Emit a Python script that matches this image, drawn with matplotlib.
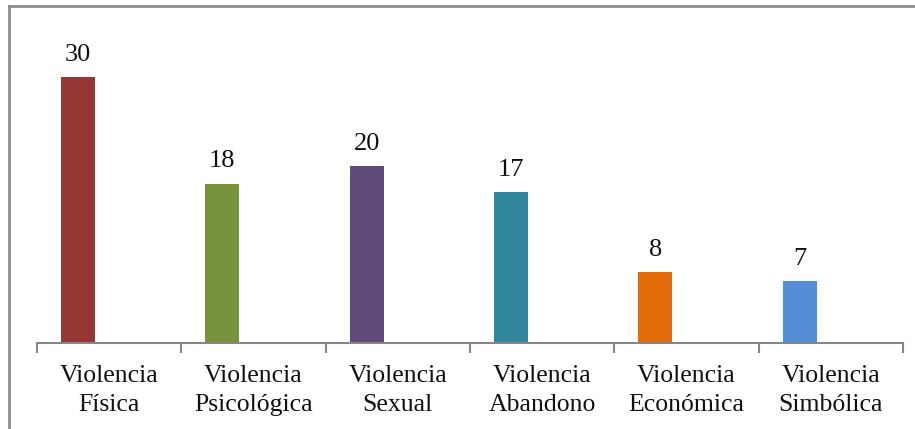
import matplotlib
matplotlib.use('Agg')
import matplotlib.pyplot as plt
from matplotlib.lines import Line2D
import numpy as np

categories = ['Violencia\nFísica', 'Violencia\nPsicológica', 'Violencia\nSexual',
              'Violencia\nAbandono', 'Violencia\nEconómica', 'Violencia\nSimbólica']
values = [30, 18, 20, 17, 8, 7]
colors = ['#953735', '#77933C', '#604A7B', '#31859C', '#E46C0A', '#558ED5']

plt.rcParams['font.family'] = ['Liberation Serif', 'DejaVu Serif']

fig = plt.figure(figsize=(9.15, 4.29), dpi=100)
ax = fig.add_axes([0.0404, 0.2005, 0.9465, 0.7226])

x = np.arange(len(categories))
# bars sit left of the category centre, like the original spreadsheet chart
bar_x = x - 0.216
bars = ax.bar(bar_x, values, width=0.236, color=colors, zorder=2)

for bx, v in zip(bar_x, values):
    ax.annotate(str(v), (bx, v), xytext=(0, 8), textcoords='offset points',
                ha='center', va='bottom', fontsize=19, color='#111111')

ax.set_xlim(-0.5, len(categories) - 0.5)
ax.set_ylim(0, 35)

for s in ['top', 'right', 'left']:
    ax.spines[s].set_visible(False)
ax.spines['bottom'].set_color('#868686')
ax.spines['bottom'].set_linewidth(1.5)

ax.set_yticks([])
ax.set_xticks(x)
ax.set_xticklabels(categories, fontsize=18.5, linespacing=1.42, color='#111111')
ax.tick_params(axis='x', which='major', length=0, pad=16)
ax.set_xticks(np.arange(-0.5, len(categories)), minor=True)
ax.tick_params(axis='x', which='minor', length=7, width=1.5, color='#868686', direction='out')

# chart frame (top and left edges visible)
fig.add_artist(Line2D([0.0093, 1.0], [0.987, 0.987], transform=fig.transFigure,
                      color='#8c8c8c', linewidth=2))
fig.add_artist(Line2D([0.0093, 0.0093], [0.0, 0.987], transform=fig.transFigure,
                      color='#8c8c8c', linewidth=2))

fig.savefig('out.png', dpi=100)
